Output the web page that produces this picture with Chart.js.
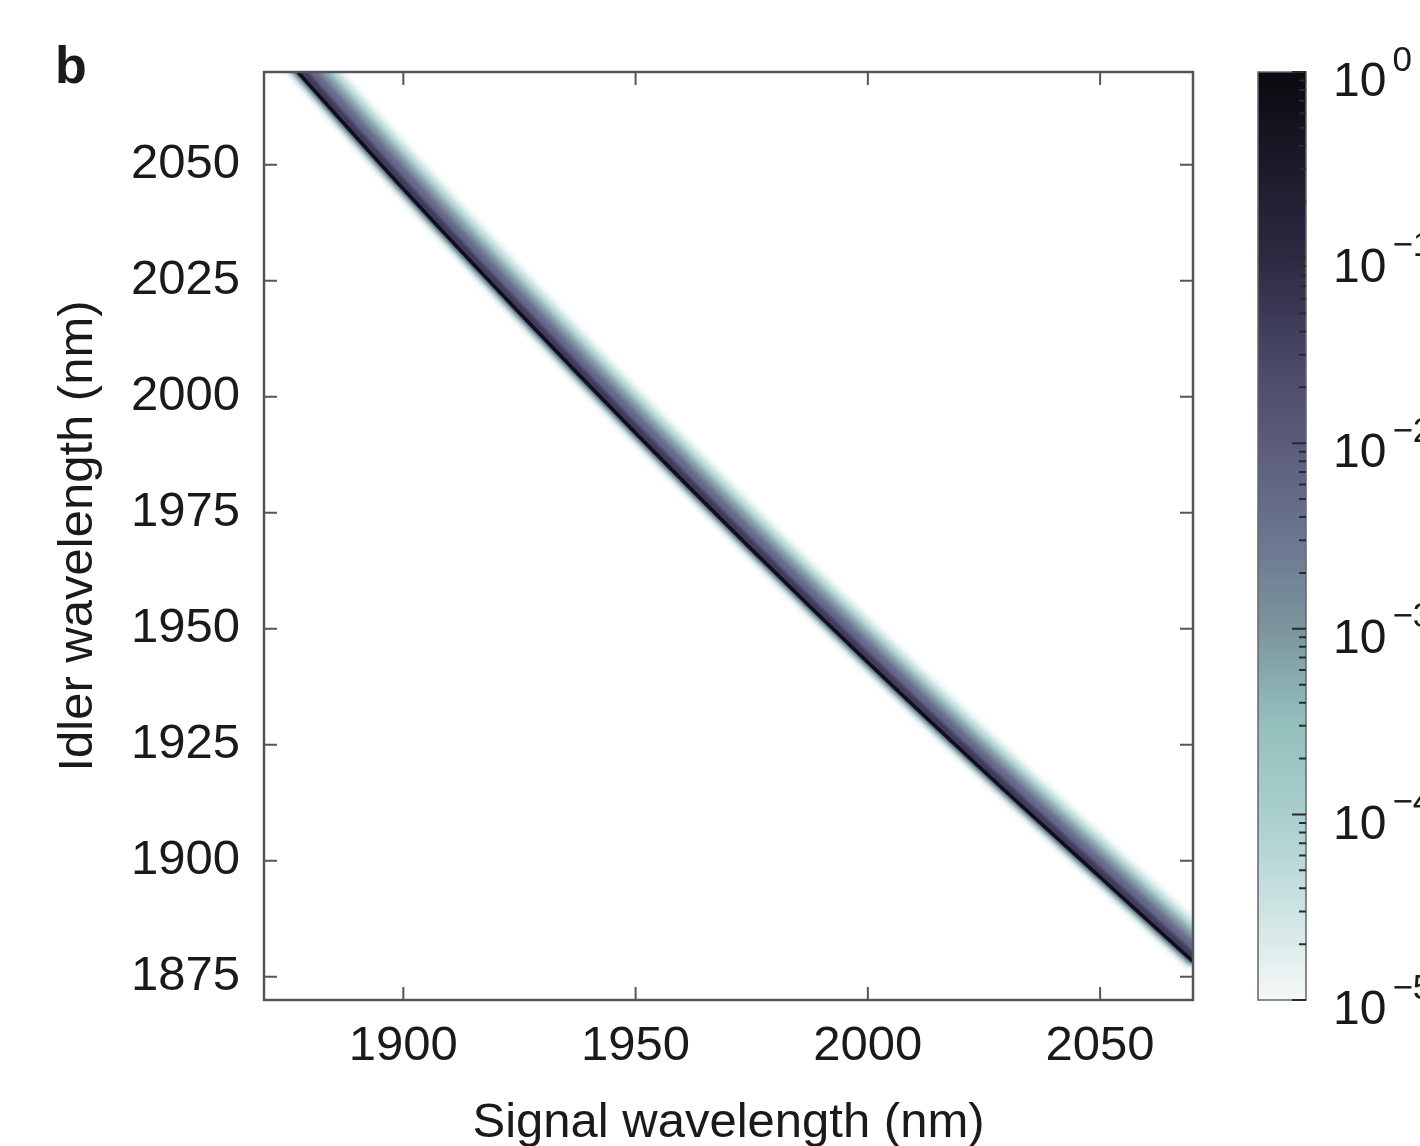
<!DOCTYPE html>
<html>
<head>
<meta charset="utf-8">
<script src="https://cdn.jsdelivr.net/npm/chart.js@4/dist/chart.umd.min.js"></script>
<style>
  body { margin: 0; background: #fff; }
  canvas { display: block; }
</style>
</head>
<body>
<canvas id="jsi" width="1420" height="1146"></canvas>
<script>
// ridge of the joint spectral intensity (nm)
const signalNm = [1868, 1877.3, 1900, 1925, 1950, 1975, 2000, 2025, 2050, 2070, 2078];
const idlerNm = [2080.5, 2070, 2044.8, 2018.1, 1992.2, 1967.1, 1942.8, 1919.3, 1896.5, 1878.3, 1871.2];

const xTicks = [1900, 1950, 2000, 2050];
const yTicks = [1875, 1900, 1925, 1950, 1975, 2000, 2025, 2050];

// colour bar: decades and colour stops (exponent, colour)
const cbDecades = [0, -1, -2, -3, -4, -5];
const cbStops = [
  [0, "#0b0a10"], [-1, "#2c2a42"], [-1.6, "#4b4a6b"], [-2, "#5b5b7c"],
  [-2.5, "#6a7590"], [-3, "#7c959d"], [-3.5, "#93bfbd"], [-4, "#a8cfce"],
  [-4.5, "#cbe2e1"], [-5, "#f4f8f8"],
];

const FONT = '"Liberation Sans", Arial, sans-serif';
const AXIS = "#555";

const ridge = signalNm.map((s, i) => ({ x: s, y: idlerNm[i] }));

// band drawn as blurred layers of the ridge, pushed toward upper-right
function layer(color, width, shift, blur, order) {
  return {
    data: ridge,
    showLine: true,
    borderColor: color,
    borderWidth: width,
    pointRadius: 0,
    cubicInterpolationMode: "monotone",
    clip: false,
    shift: shift,
    blur: blur,
    order: order,
  };
}

const bandPlugin = {
  id: "band",
  beforeDatasetDraw(chart, args) {
    const ds = chart.data.datasets[args.index];
    const a = chart.chartArea;
    const ctx = chart.ctx;
    ctx.save();
    ctx.beginPath();
    ctx.rect(a.left, a.top, a.right - a.left, a.bottom - a.top);
    ctx.clip();
    ctx.translate(ds.shift * 0.707, -ds.shift * 0.707);
    ctx.filter = "blur(" + ds.blur + "px)";
  },
  afterDatasetDraw(chart) {
    chart.ctx.restore();
  },
  afterDraw(chart) {
    const ctx = chart.ctx;
    const a = chart.chartArea;
    const xs = chart.scales.x, ys = chart.scales.y, cb = chart.scales.cb;

    // frame and inward ticks
    ctx.save();
    ctx.strokeStyle = AXIS;
    ctx.lineWidth = 2.5;
    ctx.strokeRect(a.left, a.top, a.right - a.left, a.bottom - a.top);
    ctx.lineWidth = 2;
    ctx.beginPath();
    xTicks.forEach(v => {
      const px = xs.getPixelForValue(v);
      ctx.moveTo(px, a.bottom); ctx.lineTo(px, a.bottom - 13);
      ctx.moveTo(px, a.top); ctx.lineTo(px, a.top + 13);
    });
    yTicks.forEach(v => {
      const py = ys.getPixelForValue(v);
      ctx.moveTo(a.left, py); ctx.lineTo(a.left + 13, py);
      ctx.moveTo(a.right, py); ctx.lineTo(a.right - 13, py);
    });
    ctx.stroke();

    // colour bar
    const cbL = cb.left + 65, cbW = 48;
    const top = cb.getPixelForValue(1), bot = cb.getPixelForValue(1e-5);
    const g = ctx.createLinearGradient(0, top, 0, bot);
    cbStops.forEach(([e, c]) => {
      g.addColorStop((cb.getPixelForValue(Math.pow(10, e)) - top) / (bot - top), c);
    });
    ctx.fillStyle = g;
    ctx.fillRect(cbL, top, cbW, bot - top);
    ctx.strokeStyle = "#666";
    ctx.lineWidth = 1.5;
    ctx.strokeRect(cbL, top, cbW, bot - top);

    ctx.strokeStyle = "#2a2a2a";
    ctx.lineWidth = 2;
    ctx.beginPath();
    cbDecades.forEach(e => {
      const py = cb.getPixelForValue(Math.pow(10, e));
      ctx.moveTo(cbL + cbW, py); ctx.lineTo(cbL + cbW - 14, py);
      if (e > -5) {
        for (let m = 2; m <= 9; m++) {
          const pm = cb.getPixelForValue(m * Math.pow(10, e - 1));
          ctx.moveTo(cbL + cbW, pm); ctx.lineTo(cbL + cbW - 7, pm);
        }
      }
    });
    ctx.stroke();

    // colour bar labels 10^k
    ctx.fillStyle = "#1a1a1a";
    ctx.textBaseline = "middle";
    ctx.textAlign = "left";
    cbDecades.forEach(e => {
      const py = cb.getPixelForValue(Math.pow(10, e));
      ctx.font = "48px " + FONT;
      ctx.fillText("10", 1333, py + 11);
      const w = ctx.measureText("10").width;
      ctx.font = "35px " + FONT;
      ctx.fillText(e === 0 ? "0" : "\u2212" + (-e), 1333 + w + 6, py - 11);
    });

    // panel letter
    ctx.font = "bold 52px " + FONT;
    ctx.textBaseline = "alphabetic";
    ctx.fillText("b", 55, 83);
    ctx.restore();
  },
};

new Chart(document.getElementById("jsi"), {
  type: "scatter",
  data: {
    datasets: [
      layer("#100e1c", 3.5, 0, 0.7, 0),
      layer("#3e3c5a", 9, 3, 1.5, 1),
      layer("#66688a", 18, 6.5, 2, 2),
      layer("#8198a3", 26, 9, 2.5, 3),
      layer("#a6cdcc", 33, 11, 3, 4),
      layer("#d8eae9", 40, 12.5, 3, 5),
    ],
  },
  options: {
    responsive: false,
    animation: false,
    layout: { padding: { top: 72, right: 0, bottom: 0, left: 0 } },
    plugins: { legend: { display: false }, tooltip: { enabled: false } },
    scales: {
      x: {
        type: "linear",
        position: "bottom",
        min: 1870,
        max: 2070,
        afterBuildTicks: s => { s.ticks = xTicks.map(v => ({ value: v })); },
        afterFit: s => { s.height = 146; },
        grid: { display: false, drawTicks: false },
        border: { display: false },
        ticks: {
          color: "#1a1a1a", font: { family: FONT, size: 49 }, padding: 17, maxRotation: 0,
          callback: v => String(v),
        },
        title: {
          display: true,
          text: "Signal wavelength (nm)",
          color: "#1a1a1a",
          font: { family: FONT, size: 49, lineHeight: 1 },
          padding: { top: 0, bottom: -2 },
        },
      },
      y: {
        type: "linear",
        position: "left",
        min: 1870,
        max: 2070,
        afterBuildTicks: s => { s.ticks = yTicks.map(v => ({ value: v })); },
        afterFit: s => { s.width = 264; },
        grid: { display: false, drawTicks: false },
        border: { display: false },
        ticks: {
          color: "#1a1a1a", font: { family: FONT, size: 49 }, padding: 24,
          callback: v => String(v),
        },
        title: {
          display: true,
          text: "Idler wavelength (nm)",
          color: "#1a1a1a",
          font: { family: FONT, size: 49, lineHeight: 1 },
          padding: { top: 54, bottom: 0 },
        },
      },
      cb: {
        type: "logarithmic",
        position: "right",
        min: 1e-5,
        max: 1,
        afterFit: s => { s.width = 227; },
        grid: { display: false, drawTicks: false },
        border: { display: false },
        ticks: { display: false },
      },
    },
  },
  plugins: [bandPlugin],
});
</script>
</body>
</html>
